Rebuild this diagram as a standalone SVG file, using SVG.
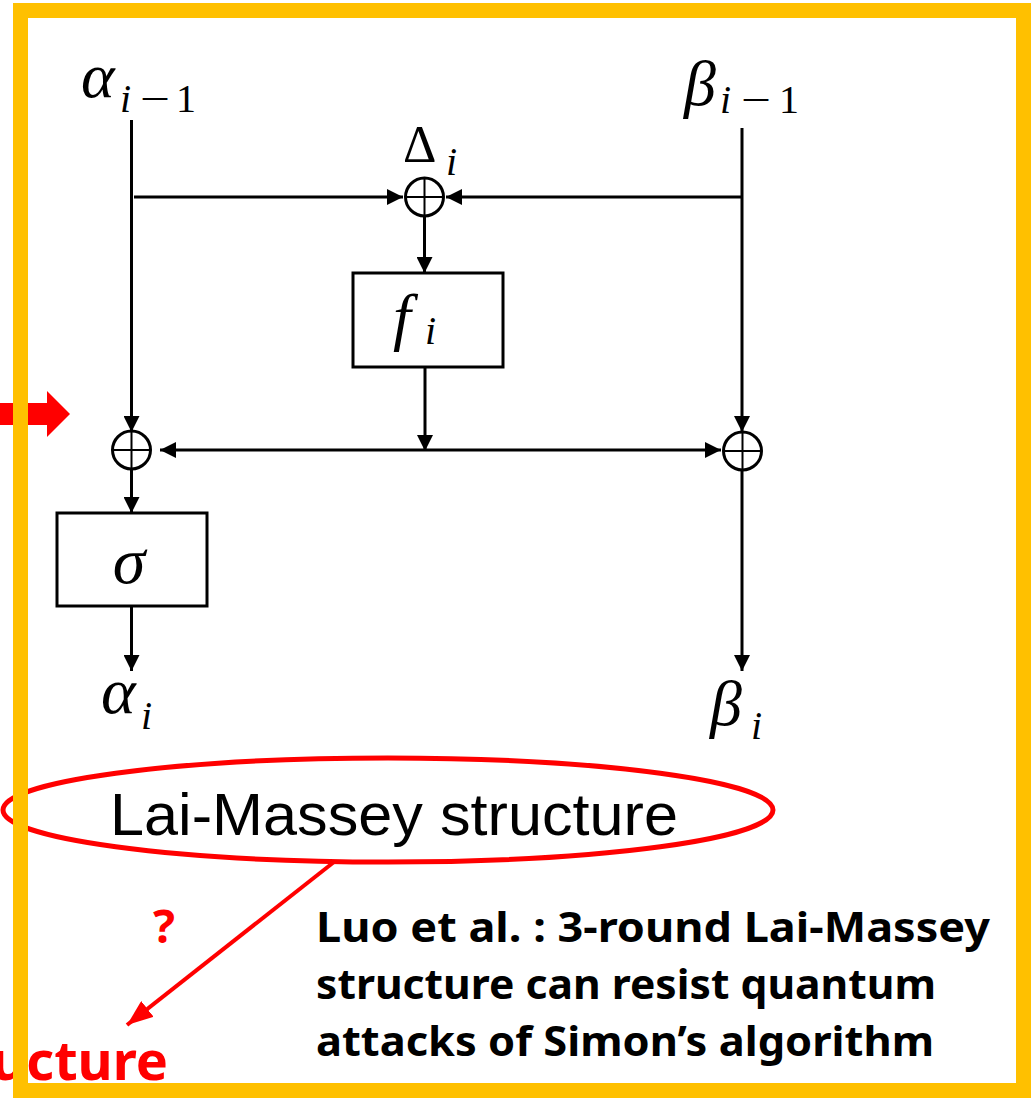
<svg xmlns="http://www.w3.org/2000/svg" width="1031" height="1098" viewBox="0 0 1031 1098">
<style>
.ln{stroke:#000;stroke-width:3;fill:none}
.xor{stroke:#000;stroke-width:3;fill:#fff}
.xc{stroke:#000;stroke-width:2}
.box{stroke:#000;stroke-width:3;fill:#fff}
.m{font-family:"Liberation Serif","DejaVu Serif",serif;fill:#000}
.it{font-style:italic}
.red{fill:#FF0000;font-family:"Noto Sans","Liberation Sans",sans-serif;font-weight:bold}
.bk{fill:#000;font-family:"Noto Sans","Liberation Sans",sans-serif;font-weight:bold;font-size:41px}
</style>
<defs>
<marker id="ah" viewBox="0 0 16 16" refX="16" refY="8" markerWidth="16" markerHeight="16" markerUnits="userSpaceOnUse" orient="auto-start-reverse">
<path d="M0,0 L16,8 L0,16 z" fill="#000"/>
</marker>
<marker id="rah" viewBox="0 0 26 20" refX="26" refY="10" markerWidth="26" markerHeight="20" markerUnits="userSpaceOnUse" orient="auto">
<path d="M0,0 L26,10 L0,20 z" fill="#FF0000"/>
</marker>
</defs>
<rect width="1031" height="1098" fill="#fff"/>

<g id="connectors">
<path class="ln" d="M131.5,120 V432" marker-end="url(#ah)"/>
<path class="ln" d="M134,197 H403" marker-end="url(#ah)"/>
<path class="ln" d="M742,197 H446" marker-end="url(#ah)"/>
<path class="ln" d="M742,128 V432" marker-end="url(#ah)"/>
<path class="ln" d="M424.5,216 V273" marker-end="url(#ah)"/>
<path class="ln" d="M425,367 V451" marker-end="url(#ah)"/>
<path class="ln" d="M160,450 H721" marker-start="url(#ah)" marker-end="url(#ah)"/>
<path class="ln" d="M131.5,469 V513" marker-end="url(#ah)"/>
<path class="ln" d="M131.5,606 V671" marker-end="url(#ah)"/>
<path class="ln" d="M742,470 V671" marker-end="url(#ah)"/>
<path d="M334,862 L127,1025" stroke="#FF0000" stroke-width="4" fill="none" marker-end="url(#rah)"/>
</g>

<g id="xor-top">
<circle class="xor" cx="424.5" cy="197" r="19"/>
<path class="xc" d="M405.5,197 H443.5 M424.5,178 V216"/>
</g>
<g id="xor-left">
<circle class="xor" cx="131.5" cy="450" r="19"/>
<path class="xc" d="M112.5,450 H150.5 M131.5,431 V469"/>
</g>
<g id="xor-right">
<circle class="xor" cx="742.5" cy="451" r="19"/>
<path class="xc" d="M723.5,451 H761.5 M742.5,432 V470"/>
</g>

<g id="f-box">
<rect class="box" x="353" y="273" width="150" height="94"/>
<text class="m it" x="393" y="338" font-size="64">f</text>
<text class="m it" x="425" y="344" font-size="40">i</text>
</g>
<g id="sigma-box">
<rect class="box" x="57" y="513" width="150" height="93"/>
<text class="m it" x="129" y="583" font-size="66" text-anchor="middle">σ</text>
</g>

<g id="label-alpha-in">
<text class="m it" x="81" y="97" font-size="64">α</text>
<text class="m it" x="120" y="112" font-size="40">i</text>
<text class="m" x="140" y="112" font-size="40" textLength="30" lengthAdjust="spacingAndGlyphs">−</text>
<text class="m" x="176" y="112" font-size="40">1</text>
</g>
<g id="label-beta-in">
<text class="m it" x="684" y="105" font-size="64">β</text>
<text class="m it" x="720" y="113" font-size="40">i</text>
<text class="m" x="741" y="113" font-size="40" textLength="30" lengthAdjust="spacingAndGlyphs">−</text>
<text class="m" x="779" y="113" font-size="40">1</text>
</g>
<g id="label-delta">
<text class="m" x="403" y="162" font-size="52">Δ</text>
<text class="m it" x="446" y="175" font-size="40">i</text>
</g>
<g id="label-alpha-out">
<text class="m it" x="101" y="713" font-size="66">α</text>
<text class="m it" x="141" y="729" font-size="40">i</text>
</g>
<g id="label-beta-out">
<text class="m it" x="710" y="725" font-size="64">β</text>
<text class="m it" x="751" y="739" font-size="40">i</text>
</g>

<g id="lai-massey">
<ellipse cx="388" cy="810" rx="385" ry="52" fill="none" stroke="#FF0000" stroke-width="5"/>
<text x="110" y="835" font-family="'Liberation Sans',Arial,sans-serif" font-size="60" textLength="568" lengthAdjust="spacingAndGlyphs" fill="#000">Lai-Massey structure</text>
</g>

<g id="red-arrow">
<path d="M0,403 H47 V391 L70,414 L47,437 V425 H0 z" fill="#FF0000"/>
</g>

<g id="question">
<text class="red" x="164" y="943" font-size="46" text-anchor="middle">?</text>
</g>
<g id="structure-cut">
<text class="red" x="168" y="1080" font-size="54" text-anchor="end">ucture</text>
</g>

<g id="luo-note">
<text class="bk" x="316" y="942" textLength="674" lengthAdjust="spacingAndGlyphs">Luo et al. : 3-round Lai-Massey</text>
<text class="bk" x="316" y="999" textLength="620" lengthAdjust="spacingAndGlyphs">structure can resist quantum</text>
<text class="bk" x="316" y="1056" textLength="618" lengthAdjust="spacingAndGlyphs">attacks of Simon’s algorithm</text>
</g>

<g id="frame">
<rect x="20.5" y="10.5" width="1003" height="1080" fill="none" stroke="#FFC000" stroke-width="15"/>
</g>
</svg>
